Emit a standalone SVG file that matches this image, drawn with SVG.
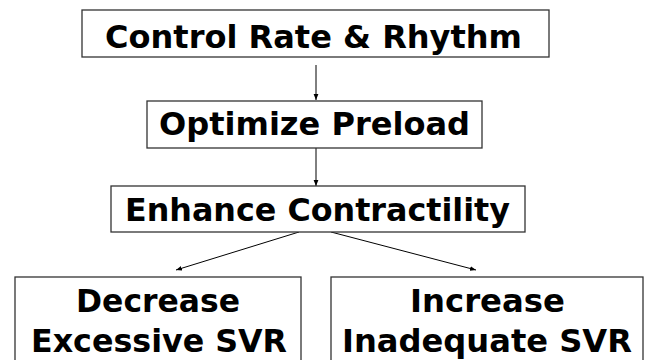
<svg xmlns="http://www.w3.org/2000/svg" width="645" height="360" viewBox="0 0 645 360">
<style>
.box{fill:#fff;stroke:#333;stroke-width:1.3}
.t{font-family:"DejaVu Sans",Verdana,sans-serif;font-weight:bold;font-size:31.5px;fill:#000;text-anchor:middle}
.c{stroke:#000;stroke-width:1;fill:none;marker-end:url(#ah)}
</style>
<defs>
<marker id="ah" viewBox="0 0 10 10" refX="10" refY="5" markerWidth="6" markerHeight="6" markerUnits="userSpaceOnUse" orient="auto">
<path d="M0,1 L10,5 L0,9 z" fill="#000"/>
</marker>
</defs>
<rect width="645" height="360" fill="#fff"/>
<g id="connectors">
<line class="c" x1="316" y1="65" x2="316" y2="100"/>
<line class="c" x1="316" y1="148" x2="316" y2="186"/>
<line class="c" x1="299" y1="232" x2="176" y2="270"/>
<line class="c" x1="331" y1="232" x2="476" y2="270"/>
</g>
<g id="n1">
<rect class="box" x="82" y="10" width="467" height="47"/>
<text class="t" x="313.5" y="48" textLength="417" lengthAdjust="spacingAndGlyphs">Control Rate &amp; Rhythm</text>
</g>
<g id="n2">
<rect class="box" x="147" y="101" width="335" height="47"/>
<text class="t" x="314.5" y="135" textLength="311" lengthAdjust="spacingAndGlyphs">Optimize Preload</text>
</g>
<g id="n3">
<rect class="box" x="111" y="186" width="414" height="46"/>
<text class="t" x="317.5" y="221" textLength="385" lengthAdjust="spacingAndGlyphs">Enhance Contractility</text>
</g>
<g id="n4">
<rect class="box" x="15" y="277" width="286" height="100"/>
<text class="t" x="158" y="312" textLength="164" lengthAdjust="spacingAndGlyphs">Decrease</text>
<text class="t" x="159" y="352" textLength="256" lengthAdjust="spacingAndGlyphs">Excessive SVR</text>
</g>
<g id="n5">
<rect class="box" x="331" y="277" width="312" height="100"/>
<text class="t" x="487.5" y="312" textLength="155" lengthAdjust="spacingAndGlyphs">Increase</text>
<text class="t" x="487" y="352" textLength="290" lengthAdjust="spacingAndGlyphs">Inadequate SVR</text>
</g>
</svg>
